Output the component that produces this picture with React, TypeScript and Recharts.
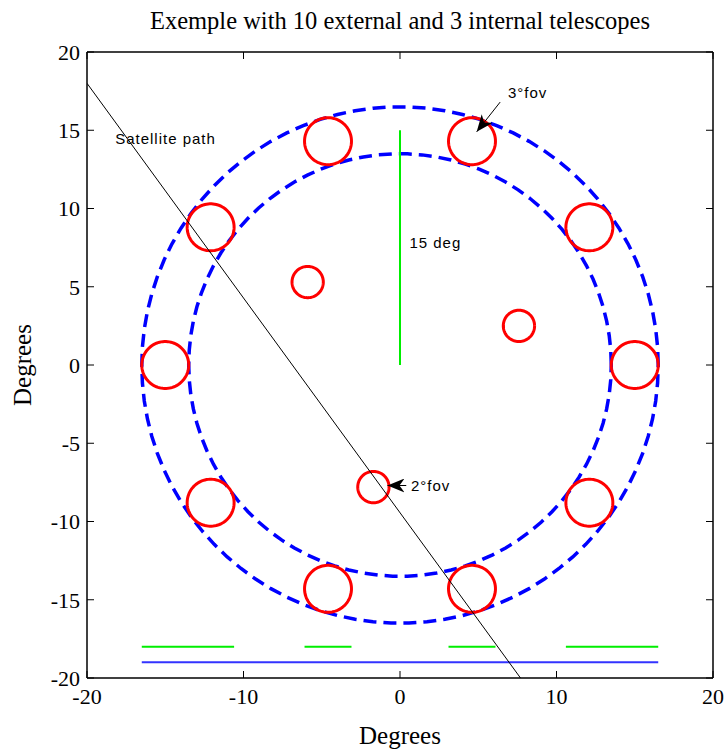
import { ComposedChart, Line, XAxis, YAxis, Scatter, Label } from "recharts";

const serif = "'Liberation Serif', 'Times New Roman', serif";
const sans = "'Liberation Sans', Arial, sans-serif";

const title = "Exemple with 10 external and 3 internal telescopes";

// 10 external telescopes (3° fov) on a 15° ring
const extX = [15, 12.1, 4.6, -4.6, -12.1, -15, -12.1, -4.6, 4.6, 12.1];
const extY = [0, 8.8, 14.3, 14.3, 8.8, 0, -8.8, -14.3, -14.3, -8.8];
const extR = 1.5;

// 3 internal telescopes (2° fov)
const intX = [7.6, -5.9, -1.7];
const intY = [2.5, 5.3, -7.8];
const intR = 1;

// dashed envelope rings
const ringRadii = [16.5, 13.5];

// satellite path
const satX = [-20, 7.7];
const satY = [18, -20];

// 15 deg marker
const degX = [0, 0];
const degY = [0, 15];

// bars at the bottom
const greenSegs = [
  [-16.5, -10.6],
  [-6.1, -3.1],
  [3.1, 6.1],
  [10.6, 16.5],
];
const greenY = -18;
const blueSeg = [-16.5, 16.5];
const blueY = -19;

// arrows: [tailX, tailY, tipX, tipY]
const arrows = [
  [6.4, 16.8, 4.9, 14.9],
  [0.4, -7.7, -0.8, -7.7],
];

const notes = [
  { x: -18.2, y: 14.5, text: "Satellite path" },
  { x: 0.6, y: 7.8, text: "15 deg" },
  { x: 6.9, y: 17.4, text: "3°fov" },
  { x: 0.7, y: -7.7, text: "2°fov" },
];

const xTicks = [-20, -10, 0, 10, 20];
const yTicks = [-20, -15, -10, -5, 0, 5, 10, 15, 20];

const circle = (cx: number, cy: number, r: number) => {
  const pts = [];
  for (let i = 0; i <= 90; i++) {
    const a = (i / 90) * Math.PI * 2;
    pts.push({ x: cx + r * Math.cos(a), y: cy + r * Math.sin(a) });
  }
  return pts;
};

const seg = (xs: number[], ys: number[]) => [
  { x: xs[0], y: ys[0] },
  { x: xs[1], y: ys[1] },
];

const NoteText = (props: any) => {
  const { cx, cy, payload } = props;
  return (
    <text
      x={cx}
      y={cy}
      dominantBaseline="central"
      fontFamily={sans}
      fontSize={15}
      letterSpacing={1}
      fill="#000"
    >
      {payload.text}
    </text>
  );
};

const tickStyle = { fill: "#000", fontFamily: serif, fontSize: 22 };
const frame = { stroke: "#000", strokeWidth: 1.5 };

export default function App() {
  return (
    <div
      style={{
        position: "absolute",
        left: 0,
        top: 0,
        width: 726,
        height: 751,
        background: "#fff",
      }}
    >
      <div
        style={{
          position: "absolute",
          left: 0,
          top: 6,
          width: 800,
          textAlign: "center",
          fontFamily: serif,
          fontSize: 24.5,
          lineHeight: "30px",
          color: "#000",
        }}
      >
        {title}
      </div>
      <ComposedChart
        width={726}
        height={751}
        margin={{ top: 51, right: 12, bottom: 0, left: 0 }}
      >
        <defs>
          <marker
            id="arrowHead"
            markerUnits="userSpaceOnUse"
            markerWidth={18}
            markerHeight={14}
            refX={17}
            refY={7}
            orient="auto"
          >
            <path d="M0,0 L17,7 L0,14 L5,7 Z" fill="#000" />
          </marker>
        </defs>
        <XAxis
          type="number"
          dataKey="x"
          domain={[-20, 20]}
          ticks={xTicks}
          allowDataOverflow
          height={73}
          tickSize={-7}
          tickMargin={17}
          axisLine={frame}
          tickLine={{ stroke: "#000" }}
          tick={tickStyle}
        >
          <Label
            value="Degrees"
            position="insideBottom"
            offset={7}
            style={{ fill: "#000", fontFamily: serif, fontSize: 25 }}
          />
        </XAxis>
        <XAxis
          xAxisId="top"
          orientation="top"
          type="number"
          dataKey="x"
          domain={[-20, 20]}
          ticks={xTicks}
          allowDataOverflow
          height={1}
          tickSize={-7}
          tickFormatter={() => ""}
          axisLine={frame}
          tickLine={{ stroke: "#000" }}
        />
        <YAxis
          type="number"
          dataKey="y"
          domain={[-20, 20]}
          ticks={yTicks}
          allowDataOverflow
          width={87}
          tickSize={-7}
          tickMargin={14}
          axisLine={frame}
          tickLine={{ stroke: "#000" }}
          tick={tickStyle}
        >
          <Label
            value="Degrees"
            angle={-90}
            position="insideLeft"
            offset={22}
            style={{
              fill: "#000",
              fontFamily: serif,
              fontSize: 25,
              textAnchor: "middle",
            }}
          />
        </YAxis>
        <YAxis
          yAxisId="right"
          orientation="right"
          type="number"
          dataKey="y"
          domain={[-20, 20]}
          ticks={yTicks}
          allowDataOverflow
          width={1}
          tickSize={-7}
          tickFormatter={() => ""}
          axisLine={frame}
          tickLine={{ stroke: "#000" }}
        />

        {/* keeps the top / right frame axes tied to a series */}
        <Line
          xAxisId="top"
          yAxisId="right"
          data={seg(blueSeg, [blueY, blueY])}
          dataKey="y"
          stroke="none"
          dot={false}
          isAnimationActive={false}
        />

        {ringRadii.map((r, i) => (
          <Line
            key={"ring" + i}
            data={circle(0, 0, r)}
            dataKey="y"
            type="linear"
            stroke="#0000ff"
            strokeWidth={3.5}
            strokeDasharray="13 7"
            dot={false}
            isAnimationActive={false}
          />
        ))}

        {extX.map((cx, i) => (
          <Line
            key={"ext" + i}
            data={circle(cx, extY[i], extR)}
            dataKey="y"
            type="linear"
            stroke="#ff0000"
            strokeWidth={3}
            dot={false}
            isAnimationActive={false}
          />
        ))}

        {intX.map((cx, i) => (
          <Line
            key={"int" + i}
            data={circle(cx, intY[i], intR)}
            dataKey="y"
            type="linear"
            stroke="#ff0000"
            strokeWidth={3}
            dot={false}
            isAnimationActive={false}
          />
        ))}

        <Line
          data={seg(degX, degY)}
          dataKey="y"
          stroke="#00ee00"
          strokeWidth={2}
          dot={false}
          isAnimationActive={false}
        />

        {greenSegs.map((s, i) => (
          <Line
            key={"g" + i}
            data={seg(s, [greenY, greenY])}
            dataKey="y"
            stroke="#00ee00"
            strokeWidth={2}
            dot={false}
            isAnimationActive={false}
          />
        ))}

        <Line
          data={seg(blueSeg, [blueY, blueY])}
          dataKey="y"
          stroke="#3333ff"
          strokeWidth={2}
          dot={false}
          isAnimationActive={false}
        />

        <Line
          data={seg(satX, satY)}
          dataKey="y"
          stroke="#000"
          strokeWidth={1}
          dot={false}
          isAnimationActive={false}
        />

        {arrows.map((a, i) => (
          <Line
            key={"arr" + i}
            data={seg([a[0], a[2]], [a[1], a[3]])}
            dataKey="y"
            stroke="#000"
            strokeWidth={1}
            markerEnd="url(#arrowHead)"
            dot={false}
            isAnimationActive={false}
          />
        ))}

        <Scatter
          data={notes}
          dataKey="y"
          shape={NoteText}
          isAnimationActive={false}
        />
      </ComposedChart>
    </div>
  );
}
